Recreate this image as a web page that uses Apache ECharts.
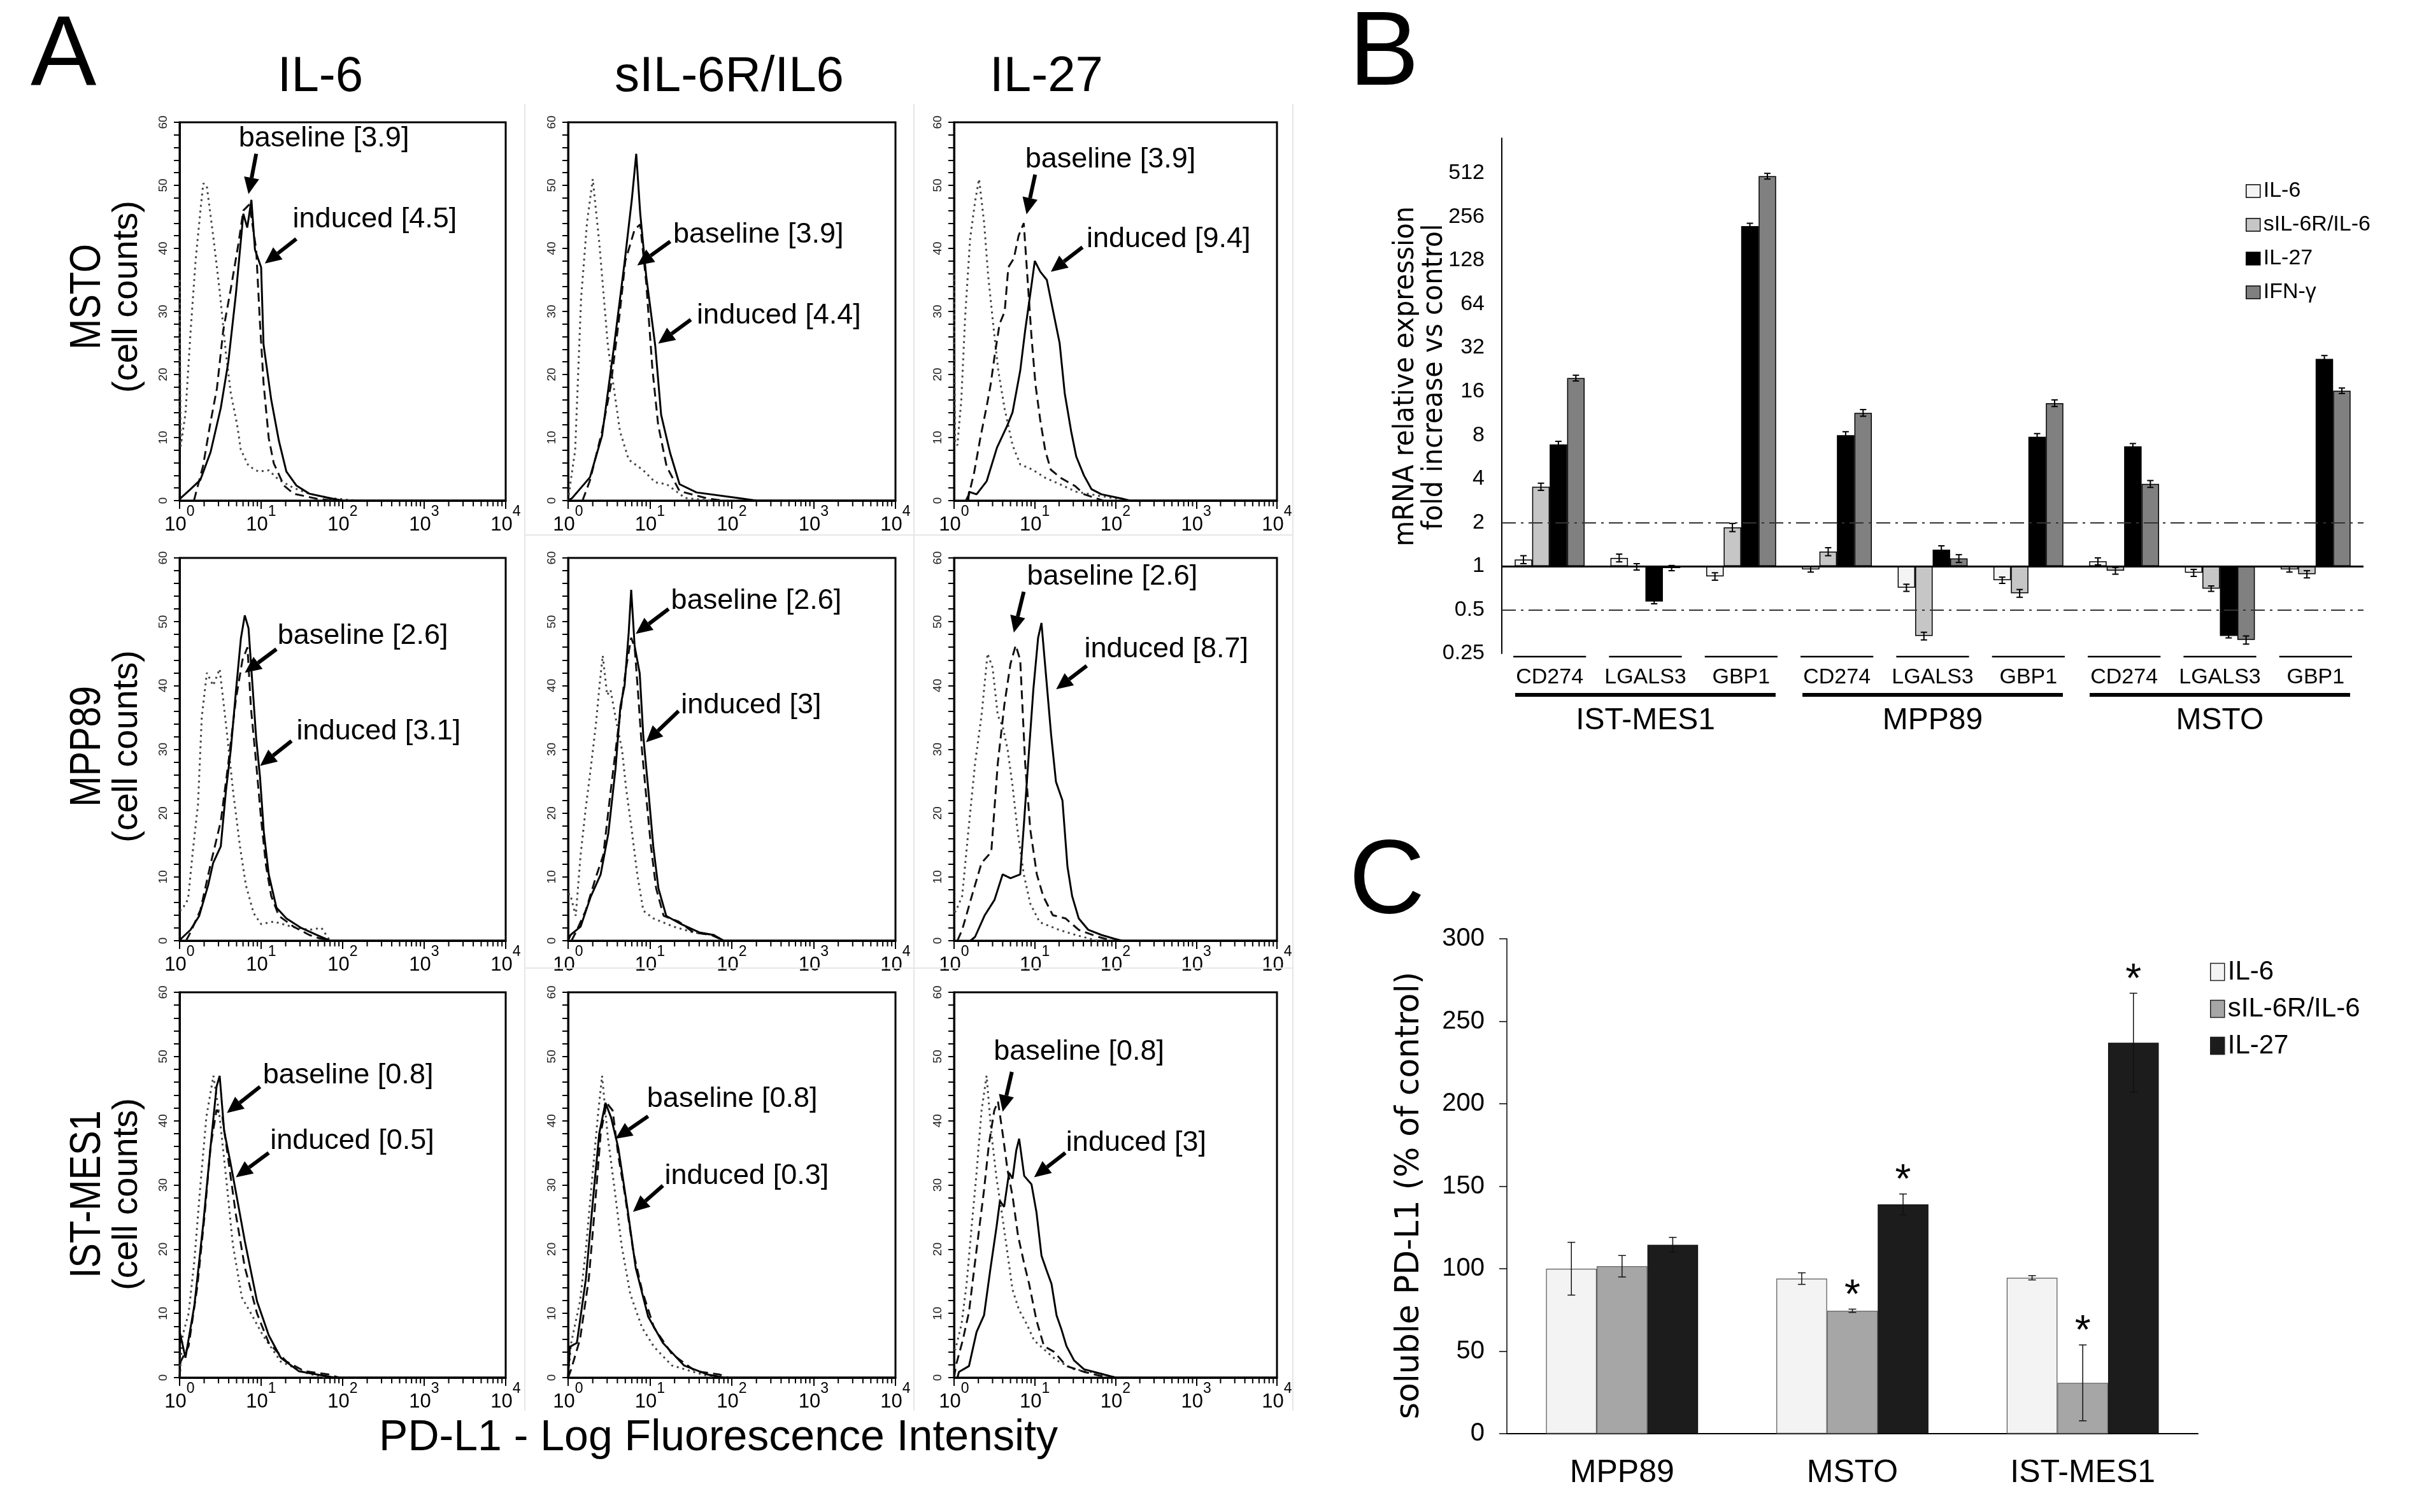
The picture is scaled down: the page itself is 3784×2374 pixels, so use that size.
<!DOCTYPE html>
<html>
<head>
<meta charset="utf-8">
<script src="https://cdn.jsdelivr.net/npm/echarts@6/dist/echarts.min.js"></script>
<style>
  html, body { margin: 0; padding: 0; background: #fff; }
  #main { width: 3784px; height: 2374px; }
</style>
</head>
<body>
<div id="main"></div>
<script>
const FONT = "'Liberation Sans', Arial, Helvetica, sans-serif";
const VFONT = "'DejaVu Sans', Verdana, sans-serif";

// ---------- panel A: PD-L1 histograms, points are [fluorescence, cell count]
// isotype (dotted), baseline (dashed), induced (solid)
const mstoIl6Iso = [[1,35],[1.03,8.6],[1.18,13.8],[1.36,26.6],[1.57,38],[1.8,46],[1.95,50.3],[2.15,50],[2.58,42],[3.08,33.6],[3.69,23.5],[4.25,17],[5.08,12],[5.63,8.1],[7,5.5],[9.3,4.6],[12.4,4.8],[16.5,3.3],[25,2],[39,1.1],[69,0.4],[150,0]];
const mstoIl6Base = [[1.5,0],[1.94,5.5],[2.4,12.5],[2.87,17.8],[3.43,27],[4.25,33.6],[5.26,40.7],[6.05,46],[7.2,47],[8.7,39.8],[9.6,29],[10.7,18.7],[12.4,9.9],[14.3,5.9],[19,2.4],[25,1.1],[48,0.3],[80,0]];
const mstoIl6Ind = [[1,0],[1.03,0.4],[1.36,1.8],[1.8,3.3],[2.4,7.7],[3.2,14.7],[3.96,22],[4.9,32.7],[6.05,45.5],[6.76,43.3],[7.6,47.7],[8.4,39.8],[10,37],[10.7,24.8],[13.3,16],[16.5,9.5],[20.4,4.6],[27,2.4],[39,1.1],[69,0.4],[100,0],[10000,0]];

const mstoSilIso = [[1,0],[1.1,4],[1.22,8],[1.44,32],[1.7,44],[2,51],[2.4,41],[3.06,24.6],[4.3,11],[5.5,6.5],[8.3,4.8],[11.6,2.9],[16,2.6],[27,0.4],[60,0]];
const mstoSilBase = [[1.5,0],[1.85,3.2],[2.6,11],[3.3,18],[4.3,30],[5,38],[6.5,43],[7.6,43.8],[9,34.6],[10.7,21],[12.6,12],[16,5.4],[23,1.5],[52,0.3],[80,0]];
const mstoSilInd = [[1,0],[1.12,0.4],[1.85,3.7],[2.6,10.3],[3.6,24],[4.9,37.8],[6,47.7],[6.8,55],[7.6,45.6],[9,35.6],[11.6,24.6],[13.7,13.6],[17.6,7.6],[23,2.6],[37,1.3],[120,0.4],[200,0],[10000,0]];

const mstoIl27Iso = [[1,36],[1.03,9],[1.1,8.8],[1.23,16],[1.37,29],[1.58,41.5],[1.83,47.6],[2.04,51],[2.36,44],[2.64,35.8],[3.05,28],[3.53,20.6],[4.24,14.5],[5.3,8.8],[6.6,5.75],[9.4,4.9],[13.5,3.6],[19.6,2.7],[32.6,1.4],[67,0.7],[150,0]];
const mstoIl27Base = [[1.4,0],[1.53,1],[1.77,4.4],[2.12,10],[2.54,15],[2.84,18.4],[3.16,22.7],[3.66,28],[4.24,30],[4.7,37],[5.5,38.4],[6.3,42],[7.3,44],[8.2,34.5],[9.1,26],[10.2,18.4],[11.7,12.7],[13.5,7.9],[15.8,4.9],[21,3.6],[31.6,2.3],[41,1],[70,0]];
const mstoIl27Ind = [[1.5,0],[1.53,1.4],[1.9,1],[2.54,3.1],[3.4,8.4],[4.56,11.9],[5.3,14],[6.6,20.6],[7.6,27],[8.8,32.8],[10,38],[11.7,36.3],[14.1,35],[16.9,30],[20.3,25],[23.5,17],[28.2,11],[32.6,7],[40.6,4],[50.5,1.8],[67,1],[121,0.3],[150,0],[10000,0]];

const mppIl6Iso = [[1,4.8],[1.06,4.8],[1.27,6.5],[1.46,14.3],[1.68,21.3],[1.87,35],[2.16,42],[2.58,40],[3.1,42.6],[3.7,34],[4.57,23],[5.5,14.8],[6.5,8.7],[8.1,4.3],[10,2.6],[14.3,3],[23.6,2.2],[39,1.7],[55,2],[70,0]];
const mppIl6Base = [[1.2,0],[1.36,1.3],[1.8,4.8],[2.4,12],[3.2,18.7],[3.96,27.8],[4.9,37.8],[5.9,44],[6.8,46],[7.5,36.5],[8.7,27.8],[10,19],[11.5,11.7],[13.3,7],[16.5,3.9],[25,2.2],[39,0.9],[51,0.4],[70,0]];
const mppIl6Ind = [[1,0],[1.06,0.4],[1.36,1.7],[1.74,3.9],[2.24,8.7],[2.58,12.2],[3.2,14.8],[3.7,23.5],[4.25,30],[4.9,39],[5.65,47.4],[6.3,51],[7,49],[7.8,40.4],[8.7,31.7],[9.7,25.6],[10.8,17],[12.4,10.4],[15.4,5.2],[20.4,3.5],[31,2],[48,0.9],[70,0],[10000,0]];

const mppSilIso = [[1,7.3],[1.06,7.3],[1.24,3.9],[1.42,13.4],[1.64,20.7],[1.89,27],[2.19,34],[2.42,40],[2.65,44.7],[3,38.5],[3.3,39.3],[3.8,35],[4.57,29.8],[5.1,24],[5.9,18],[7,10.4],[8.3,4.7],[11,3.5],[19.4,2.2],[34,1.3],[60,0.9],[80,0]];
const mppSilBase = [[1.1,0],[1.24,1.3],[1.64,4.7],[2.19,10],[2.69,13.4],[3.3,23.3],[4.1,33.2],[5.1,42.7],[5.9,47.5],[6.5,46],[7.2,38.4],[8,29.8],[8.9,23.3],[10.3,14.7],[11.9,8.2],[14.7,3.9],[22.4,3],[34,1.3],[56,0.9],[80,0]];
const mppSilInd = [[1,0],[1.07,0.9],[1.42,2.2],[1.89,6.9],[2.5,10.4],[3.1,16.8],[3.8,27],[4.35,36.7],[4.9,40],[5.5,48.3],[5.9,55],[6.5,46.2],[7.5,41.9],[8.3,32],[9.6,23.3],[11,14.7],[12.7,8.2],[15.8,3.9],[24,2.6],[40,1.3],[60,0.9],[80,0],[10000,0]];

const mppIl27Iso = [[1,4.6],[1.05,4.6],[1.26,7],[1.51,17.4],[1.82,27.8],[2.19,35.3],[2.6,45],[3,42.8],[3.48,35.3],[4,33.6],[4.6,30],[5.3,24.3],[6.1,17.4],[7.3,10.4],[8.8,5.8],[11.5,2.9],[20,1.7],[32,0.9],[60,0]];
const mppIl27Base = [[1.1,0],[1.26,1.7],[1.66,7],[2.19,12.2],[2.89,13.9],[3.48,27.8],[4.2,37],[5,43.4],[5.8,46.3],[6.6,44],[7.6,27.8],[8.8,17.4],[10.6,10.4],[12.7,7],[16.7,4],[24,3.5],[35,1.7],[61,0.6],[90,0]];
const mppIl27Ind = [[1.6,0],[1.82,0.6],[2.4,4],[3.17,6.4],[4,10.4],[5,9.8],[6.6,10.4],[7.3,17.9],[8.4,29],[9.6,39.4],[11,47.5],[12.1,49.8],[13.9,41],[15.9,32.4],[18.3,24.9],[22,22],[25.4,11.6],[29,7],[35,3.5],[46,1.7],[67,0.9],[97,0.3],[120,0],[10000,0]];

const istIl6Iso = [[1,0],[1.09,6.6],[1.29,10],[1.52,18.3],[1.8,30],[2.13,40.6],[2.6,47],[3.1,40.6],[3.8,30],[4.5,20.7],[5.8,12.5],[7.5,10],[10.5,6.6],[17.4,2.5],[34,0.8],[60,0]];
const istIl6Base = [[1,0],[1.03,2.5],[1.29,4.9],[1.65,14.2],[2.03,25.4],[2.4,36],[2.84,41.7],[3.35,40.6],[4,33.5],[4.9,25.4],[6.3,17.2],[8.9,10],[12.4,5.4],[20.5,2.5],[34,1],[67,0.5],[90,0]];
const istIl6Ind = [[1,7.2],[1.03,7.2],[1.18,3.1],[1.52,11.3],[1.96,24.2],[2.4,36],[2.84,45.3],[3.1,47],[3.52,38.4],[4.2,33.5],[4.9,28.9],[6.3,21.3],[8.9,11.9],[12.4,6.6],[17.4,3.1],[29,1],[48,0.5],[80,0],[10000,0]];

const istSilIso = [[1,0],[1.09,5.4],[1.4,11.9],[1.65,20],[1.95,30.5],[2.3,40.5],[2.6,47],[3.05,37.5],[3.6,30.5],[4.5,20.6],[5.75,13],[8,7.8],[11.2,4.8],[18.5,1.9],[36,0.8],[60,0]];
const istSilBase = [[1,0],[1.09,1.3],[1.4,6],[1.79,15.4],[2.12,26.4],[2.5,38],[2.95,42.8],[3.5,41.6],[4.1,34.6],[4.9,28.8],[6.3,19.4],[8,13.6],[11.2,7.8],[18.5,3.7],[36,1],[70,0.5],[90,0]];
const istSilInd = [[1,0],[1.05,4.8],[1.28,5.4],[1.65,15.4],[2.05,28.8],[2.4,38],[2.86,42.8],[3.35,40.5],[4.1,35.8],[5.3,26.4],[6.7,17.1],[9.5,9.5],[14.4,5.4],[26,1.9],[50,0.5],[80,0],[10000,0]];

const istIl27Iso = [[1,4.4],[1.04,4.4],[1.24,8.4],[1.43,14.6],[1.65,23.5],[1.9,31.9],[2.19,41.6],[2.53,47],[2.9,38],[3.36,31],[3.9,25.7],[4.47,20.4],[5.3,13.7],[6.35,10.6],[7.9,8.4],[9.8,5.8],[13,4.4],[18.6,2.7],[30.6,1.3],[62,0.7],[100,0]];
const istIl27Base = [[1,0],[1.07,2.2],[1.28,5.8],[1.53,10.2],[1.77,16.8],[2.04,23],[2.35,29.2],[2.7,36.3],[3.15,41.6],[3.5,43],[4,38],[4.6,32.3],[5.3,28.3],[6.2,22.1],[7.4,17.7],[8.5,14.6],[10.5,8.9],[13,4.9],[17.4,4],[24.7,1.8],[40.7,0.9],[80,0]];
const istIl27Ind = [[1.1,0],[1.15,0.9],[1.53,1.8],[1.9,7.1],[2.35,9.7],[2.81,16.8],[3.36,23.5],[3.7,27.5],[4.17,26.6],[4.8,31.9],[5.3,31],[5.9,35.4],[6.4,37.2],[7.4,31.4],[9.1,30.1],[10.5,25.7],[12.1,19],[13.9,16.8],[16.1,14.6],[18.6,9.7],[21.4,7.5],[24.7,4.9],[30.6,2.7],[40.7,1.3],[62,0.7],[100,0],[10000,0]];

const histCells = ['MSTO', 'MPP89', 'IST-MES1'];
const histTreatments = ['IL-6', 'sIL-6R/IL6', 'IL-27'];
const baselineMFI = [3.9, 3.9, 3.9, 2.6, 2.6, 2.6, 0.8, 0.8, 0.8];
const inducedMFI = [4.5, 4.4, 9.4, 3.1, 3, 8.7, 0.5, 0.3, 3];

// ---------- panel B: mRNA fold change vs control
const bGenes = ['CD274', 'LGALS3', 'GBP1', 'CD274', 'LGALS3', 'GBP1', 'CD274', 'LGALS3', 'GBP1'];
const bCellLines = ['IST-MES1', 'MPP89', 'MSTO'];
const bIl6 = [1.11, 1.14, 0.85, 0.95, 0.71, 0.80, 1.08, 0.90, 0.95];
const bIl6Err = [0.07, 0.07, 0.05, 0.04, 0.04, 0.04, 0.06, 0.05, 0.04];
const bSil6r = [3.53, 0.99, 1.85, 1.26, 0.33, 0.65, 0.93, 0.70, 0.88];
const bSil6rErr = [0.2, 0.05, 0.12, 0.08, 0.02, 0.04, 0.05, 0.03, 0.05];
const bIl27 = [6.9, 0.57, 221, 8.0, 1.30, 7.8, 6.7, 0.33, 26.8];
const bIl27Err = [0.35, 0.02, 10, 0.45, 0.08, 0.4, 0.3, 0.01, 1.5];
const bIfn = [19.8, 0.97, 488, 11.4, 1.13, 13.3, 3.69, 0.31, 16.2];
const bIfnErr = [0.9, 0.04, 22, 0.6, 0.07, 0.7, 0.2, 0.02, 0.7];
const bThresholds = [2, 0.5];

// ---------- panel C: soluble PD-L1, % of control
const cCellLines = ['MPP89', 'MSTO', 'IST-MES1'];
const cIl6 = [100, 94, 94.5];
const cIl6Err = [16, 3.5, 1.3];
const cSil6r = [101.5, 74.5, 30.8];
const cSil6rErr = [6.5, 1, 23];
const cIl27 = [114.5, 139, 237];
const cIl27Err = [4.5, 6.3, 30];
const cIl6Sig = [0, 0, 0];
const cSil6rSig = [0, 1, 1];
const cIl27Sig = [0, 1, 1];

// ---------- layout
const colX = [[282, 794], [892, 1406], [1498, 2005]];
const rowY = [[192, 786], [876, 1477], [1558, 2163]];

const histSets = [
  [mstoIl6Iso, mstoIl6Base, mstoIl6Ind], [mstoSilIso, mstoSilBase, mstoSilInd], [mstoIl27Iso, mstoIl27Base, mstoIl27Ind],
  [mppIl6Iso, mppIl6Base, mppIl6Ind], [mppSilIso, mppSilBase, mppSilInd], [mppIl27Iso, mppIl27Base, mppIl27Ind],
  [istIl6Iso, istIl6Base, istIl6Ind], [istSilIso, istSilBase, istSilInd], [istIl27Iso, istIl27Base, istIl27Ind]
];

// where the annotations sit, in each panel's data coords: [text], [arrow tail], [arrow head]
const notePos = [
  { b: [[5.3, 57.4], [8.7, 55], [7.0, 48.6]], i: [[24.4, 44.6], [27, 41.5], [11.1, 37.6]] },
  { b: [[19.2, 42.2], [17.7, 41.1], [7.0, 37.3]], i: [[37.4, 29.3], [31.6, 28.7], [12.6, 24.9]] },
  { b: [[7.6, 54.1], [10.1, 51.7], [7.9, 45.4]], i: [[43.7, 41.5], [39, 40.2], [15.8, 36.3]] },
  { b: [[15.9, 47.8], [15.4, 45.7], [6.3, 42]], i: [[27.2, 32.8], [23.6, 31.3], [9.7, 27.4]] },
  { b: [[18.1, 53.3], [16.9, 52], [6.7, 48.1]], i: [[24, 36.9], [22.4, 36], [8.95, 31.1]] },
  { b: [[8.0, 57], [7.3, 54.7], [5.5, 48.3]], i: [[41, 45.7], [44, 43.1], [18.4, 39.4]] },
  { b: [[10.5, 47], [9.7, 45.3], [3.8, 41.2]], i: [[12.9, 36.8], [12.4, 35], [4.9, 31.2]] },
  { b: [[9.2, 43.4], [9.5, 40.7], [3.8, 37.2]], i: [[15.1, 31.4], [14.4, 29.9], [6.2, 25.8]] },
  { b: [[3.1, 50.7], [5.2, 47.6], [4.0, 41.4]], i: [[24.4, 36.5], [23.9, 35], [9.8, 31.2]] }
];

const minorTicks = [];
[1, 10, 100, 1000].forEach(d => { for (let m = 2; m <= 9; m++) minorTicks.push([m * d, 0]); });

const curveStyles = [
  { color: '#444', width: 3, type: [3, 6] },
  { color: '#111', width: 3, type: [14, 8] },
  { color: '#000', width: 3, type: 'solid' }
];

const grid = [], xAxis = [], yAxis = [], series = [];

histSets.forEach((set, i) => {
  const r = Math.floor(i / 3), c = i % 3;
  grid.push({
    left: colX[c][0], top: rowY[r][0],
    width: colX[c][1] - colX[c][0], height: rowY[r][1] - rowY[r][0],
    show: true, borderColor: '#000', borderWidth: 3, backgroundColor: 'transparent'
  });
  xAxis.push({
    type: 'log', logBase: 10, min: 1, max: 10000, gridIndex: i,
    splitLine: { show: false },
    axisLine: { show: true, onZero: false, lineStyle: { color: '#000', width: 3 } },
    axisTick: { show: true, length: 13, lineStyle: { color: '#000', width: 2 } },
    axisLabel: {
      margin: 6, color: '#000',
      formatter: v => '{b|10}{s|' + Math.round(Math.log10(v)) + '}',
      rich: {
        b: { fontSize: 31, fontFamily: FONT, color: '#000', lineHeight: 48, verticalAlign: 'bottom' },
        s: { fontSize: 23, fontFamily: FONT, color: '#000', lineHeight: 18, verticalAlign: 'top' }
      }
    }
  });
  yAxis.push({
    type: 'value', min: 0, max: 60, interval: 2, gridIndex: i,
    splitLine: { show: false },
    axisLine: { show: true, onZero: false, lineStyle: { color: '#000', width: 3 } },
    axisTick: { show: true, length: 9, lineStyle: { color: '#000', width: 2 } },
    axisLabel: {
      rotate: 90, margin: 16, fontSize: 19, fontFamily: FONT, color: '#222',
      formatter: v => (v % 10 === 0 ? String(v) : '')
    }
  });
  set.forEach((d, k) => series.push({
    type: 'line', xAxisIndex: i, yAxisIndex: i, data: d, showSymbol: false, symbol: 'none',
    lineStyle: curveStyles[k], silent: true, z: 3 + k
  }));
  series.push({
    type: 'custom', xAxisIndex: i, yAxisIndex: i, data: minorTicks, silent: true,
    renderItem: (p, api) => {
      const pt = api.coord([api.value(0), 0]);
      return { type: 'line', shape: { x1: pt[0], y1: pt[1], x2: pt[0], y2: pt[1] + 9 }, style: { stroke: '#000', lineWidth: 2 } };
    }
  });
});

// ---------- panel B
grid.push({ left: 2358, top: 217, width: 1353, height: 809 });
xAxis.push({
  type: 'category', gridIndex: 9, data: bGenes, position: 'bottom',
  axisLine: { show: false, onZero: false }, axisTick: { show: false },
  axisLabel: { interval: 0, fontSize: 34, fontFamily: FONT, color: '#000', margin: 21 }
});
xAxis.push({
  type: 'category', gridIndex: 9, data: bCellLines, position: 'bottom',
  axisLine: { show: false, onZero: false }, axisTick: { show: false },
  axisLabel: { interval: 0, fontSize: 48, fontFamily: FONT, color: '#000', margin: 82 }
});
yAxis.push({
  type: 'value', gridIndex: 9, min: -2, max: 9.8, interval: 1,
  splitLine: { show: false },
  axisLine: { show: true, onZero: false, lineStyle: { color: '#000', width: 2 } },
  axisTick: { show: false },
  axisLabel: {
    fontSize: 34, fontFamily: FONT, color: '#000', margin: 27,
    formatter: v => (Math.abs(v - Math.round(v)) > 1e-6 ? '' : String(Math.pow(2, Math.round(v))))
  }
});

const B_GAP = 0.27;
const bDefs = [
  { name: 'IL-6', vals: bIl6, err: bIl6Err, color: '#f4f4f4' },
  { name: 'sIL-6R/IL-6', vals: bSil6r, err: bSil6rErr, color: '#c6c6c6' },
  { name: 'IL-27', vals: bIl27, err: bIl27Err, color: '#000000' },
  { name: 'IFN-γ', vals: bIfn, err: bIfnErr, color: '#808080' }
];
const dashDot = [22, 8, 4, 8];
bDefs.forEach((s, k) => {
  const ser = {
    name: s.name, type: 'bar', xAxisIndex: 9, yAxisIndex: 9,
    data: s.vals.map(v => Math.log2(v)),
    barGap: '0%', barCategoryGap: (B_GAP * 100) + '%',
    itemStyle: { color: s.color, borderColor: '#000', borderWidth: 1.5 }, silent: true
  };
  if (k === 0) {
    ser.markLine = {
      silent: true, symbol: ['none', 'none'], label: { show: false },
      data: bThresholds.map(t => ({ yAxis: Math.log2(t), lineStyle: { color: '#333', width: 2, type: dashDot } }))
        .concat([{ yAxis: 0, lineStyle: { color: '#000', width: 3, type: 'solid' } }])
    };
  }
  series.push(ser);
});
bDefs.forEach((s, k) => {
  series.push({
    type: 'custom', xAxisIndex: 9, yAxisIndex: 9, z: 6, silent: true,
    encode: { x: 0, y: [1, 2] },
    data: s.vals.map((v, j) => [j, Math.log2(v - s.err[j]), Math.log2(v + s.err[j])]),
    renderItem: (p, api) => {
      const cat = api.value(0);
      const band = api.size([1, 0])[0];
      const group = band * (1 - B_GAP);
      const bw = group / bDefs.length;
      const cx = api.coord([cat, 0])[0] - group / 2 + bw * (k + 0.5);
      const yLo = api.coord([cat, api.value(1)])[1];
      const yHi = api.coord([cat, api.value(2)])[1];
      const st = { stroke: '#000', lineWidth: 2 };
      return { type: 'group', children: [
        { type: 'line', shape: { x1: cx, y1: yLo, x2: cx, y2: yHi }, style: st },
        { type: 'line', shape: { x1: cx - 5, y1: yLo, x2: cx + 5, y2: yLo }, style: st },
        { type: 'line', shape: { x1: cx - 5, y1: yHi, x2: cx + 5, y2: yHi }, style: st }
      ] };
    }
  });
});

// ---------- panel C
grid.push({ left: 2366, top: 1474, width: 1085, height: 777 });
xAxis.push({
  type: 'category', gridIndex: 10, data: cCellLines,
  axisLine: { show: true, onZero: false, lineStyle: { color: '#000', width: 2 } }, axisTick: { show: false },
  axisLabel: { fontSize: 50, fontFamily: FONT, color: '#000', margin: 37 }
});
yAxis.push({
  type: 'value', gridIndex: 10, min: 0, max: 300, interval: 50,
  splitLine: { show: false },
  axisLine: { show: true, onZero: false, lineStyle: { color: '#000', width: 1.5 } },
  axisTick: { show: true, length: 12, lineStyle: { color: '#000', width: 1.5 } },
  axisLabel: { fontSize: 40, fontFamily: FONT, color: '#000', margin: 35 }
});

const C_GAP = 0.34;
const cDefs = [
  { name: 'IL-6', vals: cIl6, err: cIl6Err, sig: cIl6Sig, color: '#f2f3f2', border: '#555' },
  { name: 'sIL-6R/IL-6', vals: cSil6r, err: cSil6rErr, sig: cSil6rSig, color: '#a6a6a6', border: '#666' },
  { name: 'IL-27', vals: cIl27, err: cIl27Err, sig: cIl27Sig, color: '#1c1c1c', border: '#111' }
];
cDefs.forEach(s => {
  series.push({
    name: s.name, type: 'bar', xAxisIndex: 11, yAxisIndex: 10, data: s.vals,
    barGap: '0%', barCategoryGap: (C_GAP * 100) + '%',
    itemStyle: { color: s.color, borderColor: s.border, borderWidth: 1.2 }, silent: true
  });
});
cDefs.forEach((s, k) => {
  series.push({
    type: 'custom', xAxisIndex: 11, yAxisIndex: 10, z: 6, silent: true,
    encode: { x: 0, y: [1, 2] },
    data: s.vals.map((v, j) => [j, v - s.err[j], v + s.err[j], s.sig[j]]),
    renderItem: (p, api) => {
      const cat = api.value(0);
      const band = api.size([1, 0])[0];
      const group = band * (1 - C_GAP);
      const bw = group / cDefs.length;
      const cx = api.coord([cat, 0])[0] - group / 2 + bw * (k + 0.5);
      const yLo = api.coord([cat, api.value(1)])[1];
      const yHi = api.coord([cat, api.value(2)])[1];
      const st = { stroke: '#111', lineWidth: 1.5 };
      const kids = [
        { type: 'line', shape: { x1: cx, y1: yLo, x2: cx, y2: yHi }, style: st },
        { type: 'line', shape: { x1: cx - 6, y1: yLo, x2: cx + 6, y2: yLo }, style: st },
        { type: 'line', shape: { x1: cx - 6, y1: yHi, x2: cx + 6, y2: yHi }, style: st }
      ];
      if (api.value(3)) {
        kids.push({ type: 'text', x: cx, y: yHi - 19, style: { text: '*', fontSize: 64, fontFamily: FONT, fill: '#000', align: 'center', verticalAlign: 'middle' } });
      }
      return { type: 'group', children: kids };
    }
  });
});

const legend = [
  {
    orient: 'vertical', left: 3521, top: 278, icon: 'rect', itemWidth: 22, itemHeight: 20, itemGap: 19,
    selectedMode: false, textStyle: { fontSize: 34, fontFamily: FONT, color: '#000' },
    data: bDefs.map(s => ({ name: s.name, itemStyle: { color: s.color, borderColor: '#000', borderWidth: 1.5 } }))
  },
  {
    orient: 'vertical', left: 3465, top: 1500, icon: 'rect', itemWidth: 22, itemHeight: 27, itemGap: 16,
    selectedMode: false, textStyle: { fontSize: 42, fontFamily: FONT, color: '#000' },
    data: cDefs.map(s => ({ name: s.name, itemStyle: { color: s.color, borderColor: '#222', borderWidth: 1.5 } }))
  }
];

const chart = echarts.init(document.getElementById('main'), null, { renderer: 'canvas' });
chart.setOption({ backgroundColor: '#fff', animation: false, grid, xAxis, yAxis, series, legend });

// ---------- text, arrows and brackets
const g = [];
function txt(x, y, text, size, opts) {
  const o = Object.assign({ family: FONT, align: 'center', rot: 0, sx: 1 }, opts || {});
  g.push({
    type: 'text', x, y, rotation: o.rot, scaleX: o.sx, silent: true, z: 100,
    style: { text, fontSize: size, fontFamily: o.family, fill: '#000', align: o.align, verticalAlign: 'middle' }
  });
}
function arrow(t, h) {
  const dx = h[0] - t[0], dy = h[1] - t[1], L = Math.hypot(dx, dy);
  const ux = dx / L, uy = dy / L, hl = 26, hw = 12;
  const bx = h[0] - ux * hl, by = h[1] - uy * hl;
  g.push({ type: 'line', silent: true, z: 100, shape: { x1: t[0], y1: t[1], x2: bx, y2: by }, style: { stroke: '#000', lineWidth: 6 } });
  g.push({ type: 'polygon', silent: true, z: 100, shape: { points: [[h[0], h[1]], [bx - uy * hw, by + ux * hw], [bx + uy * hw, by - ux * hw]] }, style: { fill: '#000' } });
}

// panel letters and headings
txt(48, 90, 'A', 155, { align: 'left' });
txt(2118, 87, 'B', 165, { align: 'left' });
txt(2118, 1387, 'C', 165, { align: 'left' });
const titleX = [503, 1145, 1643];
histTreatments.forEach((t, c) => txt(titleX[c], 121, t, 78));
const rowMid = [466, 1172, 1875];
histCells.forEach((name, r) => {
  txt(138, rowMid[r], name, 68, { rot: Math.PI / 2, sx: 0.85 });
  txt(200, rowMid[r], '(cell counts)', 56, { rot: Math.PI / 2 });
});
txt(1128, 2258, 'PD-L1 - Log Fluorescence Intensity', 68);
txt(2207, 591, 'mRNA relative expression', 45, { family: VFONT, rot: Math.PI / 2, sx: 0.92 });
txt(2252, 592, 'fold increase vs control', 45, { family: VFONT, rot: Math.PI / 2, sx: 0.92 });
txt(2213, 1877, 'soluble PD-L1 (% of control)', 52, { family: VFONT, rot: Math.PI / 2, sx: 0.97 });

// faint tile frames of panel A
[[824, 163, 824, 2215], [1435, 163, 1435, 2215], [2030, 163, 2030, 2215], [824, 840, 2030, 840], [824, 1520, 2030, 1520]]
  .forEach(l => g.push({ type: 'line', silent: true, z: 1, shape: { x1: l[0], y1: l[1], x2: l[2], y2: l[3] }, style: { stroke: '#e6e6e6', lineWidth: 2 } }));

// histogram annotations
notePos.forEach((n, i) => {
  const px = p => chart.convertToPixel({ gridIndex: i }, p);
  [[n.b, 'baseline [' + baselineMFI[i] + ']'], [n.i, 'induced [' + inducedMFI[i] + ']']].forEach(([pos, label]) => {
    const t = px(pos[0]);
    txt(t[0], t[1], label, 45, { align: 'left' });
    arrow(px(pos[1]), px(pos[2]));
  });
});

// panel B group brackets
const cx0 = chart.convertToPixel({ xAxisIndex: 9 }, 0);
const band = chart.convertToPixel({ xAxisIndex: 9 }, 1) - cx0;
const yBot = chart.convertToPixel({ yAxisIndex: 9 }, -2);
bGenes.forEach((gn, j) => {
  const cx = chart.convertToPixel({ xAxisIndex: 9 }, j);
  g.push({ type: 'line', silent: true, z: 50, shape: { x1: cx - 0.38 * band, y1: yBot + 5, x2: cx + 0.38 * band, y2: yBot + 5 }, style: { stroke: '#000', lineWidth: 2.5 } });
});
bCellLines.forEach((cl, k) => {
  const a = chart.convertToPixel({ xAxisIndex: 9 }, 3 * k) - 0.36 * band;
  const b = chart.convertToPixel({ xAxisIndex: 9 }, 3 * k + 2) + 0.36 * band;
  g.push({ type: 'line', silent: true, z: 50, shape: { x1: a, y1: yBot + 65, x2: b, y2: yBot + 65 }, style: { stroke: '#000', lineWidth: 6 } });
});

chart.setOption({ graphic: g });
</script>
</body>
</html>
